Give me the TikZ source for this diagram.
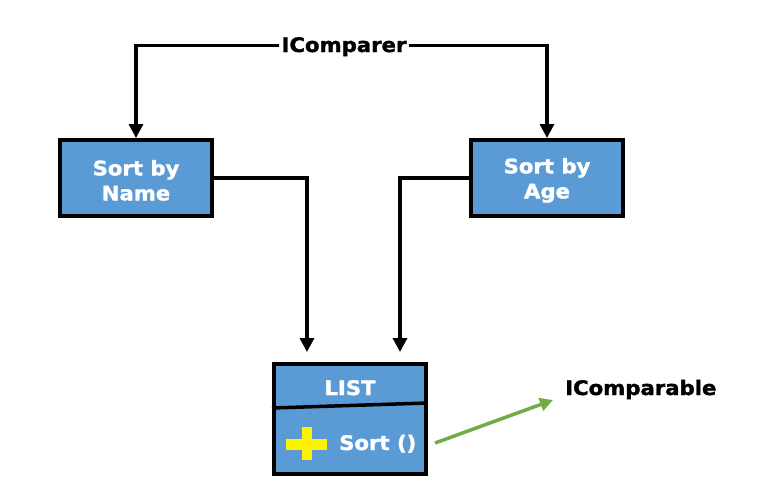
\documentclass[tikz,border=0pt]{standalone}
\usepackage{fontspec}
\setmainfont{DejaVu Sans}
\newfontfamily\blk{DejaVu Sans Bold}[FakeStretch=1.06, FakeBold=1.6]
\usetikzlibrary{arrows.meta}
\definecolor{boxblue}{HTML}{5B9BD5}
\definecolor{grn}{HTML}{70AD47}
\begin{document}
\begin{tikzpicture}[x=1pt,y=-1pt,
  font=\fontsize{20}{25}\selectfont\blk,
  box/.style={draw=black, line width=4pt, fill=boxblue, text=white, align=center,
    minimum width=152pt, minimum height=76pt, inner sep=0pt},
  lbl/.style={inner sep=2pt, text=black},
  wlbl/.style={inner sep=0pt, text=white},
  conn/.style={draw=black, line width=3.3pt, -{Triangle[width=14pt,length=14pt]}},
  gconn/.style={draw=grn, line width=3.5pt, -{Triangle[width=13pt,length=13pt]}}]
\useasboundingbox (0,0) rectangle (762,493);
\fill[white] (0,0) rectangle (762,493);
% nodes
\node[box] (name) at (136,178) {\rule{0pt}{20pt}Sort by\\Name};
\node[box] (age) at (547,178) {\rule{0pt}{20pt}Sort by\\Age};
\node[lbl, anchor=base] (comparer) at (344,52) {IComparer};
\node[box, minimum height=110pt] (list) at (349.5,419) {};
\node[wlbl, anchor=base] (listlbl) at (350,395) {LIST};
\node[wlbl, anchor=base west] (sort) at (339,450) {Sort ()};
\node[lbl, anchor=base west] (comparable) at (563,395) {IComparable};
% list divider and plus sign
\draw[line width=3.5pt] (272,408) -- (427,403);
\fill[yellow] (286,439) rectangle (327,450);
\fill[yellow] (301.5,427) rectangle (312,460);
% coordinates
\coordinate (inL) at (307,352);
\coordinate (inR) at (400,352);
\coordinate (gs) at (435,443);
\coordinate (ge) at (553,400);
% connectors
\draw[conn] ([yshift=4pt]comparer.mid west) -| (name.north);
\draw[conn] ([yshift=4pt]comparer.mid east) -| (age.north);
\draw[conn] (name.east) -| (inL);
\draw[conn] (age.west) -| (inR);
\draw[gconn] (gs) -- (ge);
\end{tikzpicture}
\end{document}
